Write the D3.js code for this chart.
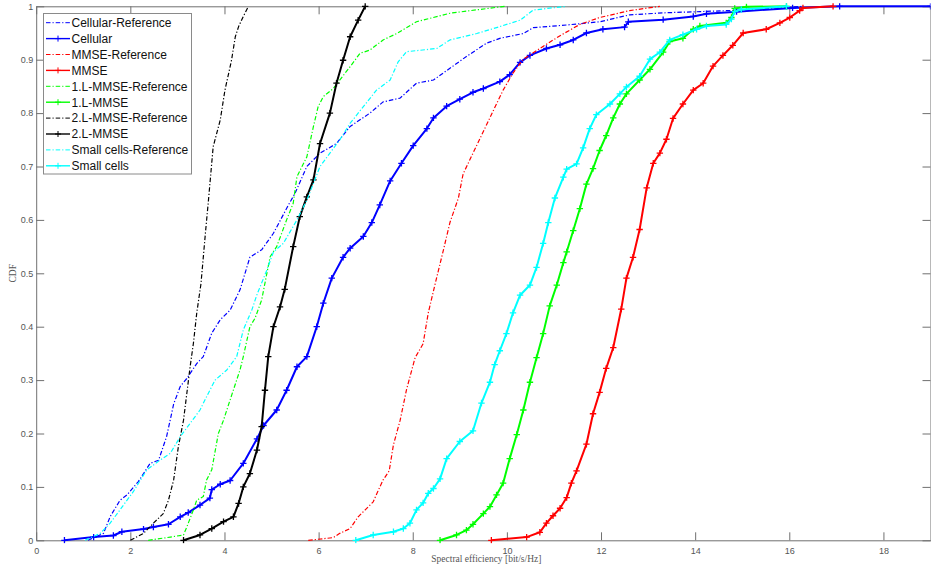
<!DOCTYPE html>
<html>
<head>
<meta charset="utf-8">
<script src="https://cdn.jsdelivr.net/npm/d3@7"></script>
<style>
  html, body { margin: 0; padding: 0; background: #fff; }
  svg { display: block; }
</style>
</head>
<body>
<svg id="chart" width="931" height="569"></svg>
<script>
// ---- data: [spectral efficiency, CDF] ----
const cellularRef = [[1.1,0],[1.43,0.013],[1.57,0.044],[1.78,0.075],[1.93,0.085],[2.17,0.11],[2.42,0.144],[2.6,0.15],[2.77,0.194],[2.92,0.255],[3.06,0.288],[3.2,0.303],[3.41,0.331],[3.55,0.344],[3.73,0.388],[3.91,0.413],[4.12,0.431],[4.33,0.469],[4.54,0.53],[4.79,0.544],[5.04,0.575],[5.36,0.628],[5.5,0.65],[5.75,0.70],[6.03,0.725],[6.38,0.743],[6.67,0.775],[7.09,0.80],[7.37,0.821],[7.73,0.828],[8.08,0.856],[8.44,0.862],[8.79,0.884],[9.14,0.906],[9.57,0.931],[9.85,0.94],[10.35,0.949],[10.56,0.96],[11.27,0.965],[11.97,0.971],[12.61,0.984],[13.39,0.988],[14.1,0.99],[15.0,0.993],[16.3,1.0]];
const cellular = [[0.6,0],[1.22,0.006],[1.64,0.009],[1.82,0.016],[2.28,0.021],[2.49,0.025],[2.81,0.03],[3.06,0.044],[3.23,0.052],[3.48,0.066],[3.69,0.079],[3.73,0.095],[3.91,0.105],[4.12,0.112],[4.4,0.144],[4.69,0.19],[4.83,0.215],[5.11,0.244],[5.32,0.281],[5.54,0.325],[5.75,0.344],[5.96,0.40],[6.1,0.444],[6.28,0.491],[6.52,0.53],[6.67,0.547],[6.95,0.569],[7.13,0.595],[7.3,0.628],[7.52,0.673],[7.76,0.706],[8.01,0.739],[8.3,0.771],[8.44,0.791],[8.72,0.813],[9.0,0.826],[9.28,0.839],[9.5,0.846],[9.85,0.859],[10.06,0.872],[10.28,0.895],[10.49,0.908],[10.84,0.921],[11.13,0.928],[11.41,0.937],[11.69,0.95],[12.04,0.957],[12.5,0.961],[12.58,0.971],[13.32,0.975],[13.96,0.981],[14.24,0.986],[14.88,0.99],[16.07,0.997],[17.07,1.0],[19,1.0]];
const mmseRef = [[5.78,0],[6.31,0.005],[6.45,0.013],[6.67,0.022],[6.84,0.044],[6.99,0.057],[7.16,0.072],[7.27,0.094],[7.37,0.113],[7.5,0.13],[7.59,0.179],[7.73,0.224],[7.87,0.283],[8.05,0.342],[8.22,0.368],[8.33,0.426],[8.47,0.478],[8.65,0.543],[8.79,0.595],[8.97,0.641],[9.07,0.686],[9.28,0.725],[9.46,0.758],[9.67,0.797],[9.92,0.843],[10.13,0.875],[10.35,0.901],[10.7,0.921],[11.13,0.945],[11.55,0.966],[11.97,0.979],[12.47,0.989],[12.61,0.992],[13.25,1.0]];
const mmse = [[9.67,0],[10.42,0.006],[10.7,0.015],[10.84,0.032],[10.98,0.046],[11.13,0.06],[11.27,0.08],[11.37,0.107],[11.48,0.13],[11.69,0.18],[11.83,0.237],[11.97,0.277],[12.11,0.322],[12.26,0.361],[12.43,0.433],[12.54,0.491],[12.68,0.53],[12.82,0.582],[12.97,0.66],[13.11,0.706],[13.25,0.725],[13.39,0.751],[13.53,0.79],[13.74,0.817],[13.96,0.843],[14.17,0.856],[14.38,0.888],[14.59,0.908],[14.8,0.927],[15.02,0.95],[15.51,0.957],[15.8,0.969],[16.01,0.979],[16.22,0.992],[16.29,0.997],[16.93,1.0]];
const l1Ref = [[2.38,0],[2.85,0.006],[3.13,0.01],[3.2,0.025],[3.34,0.057],[3.41,0.075],[3.55,0.082],[3.62,0.113],[3.73,0.132],[3.87,0.2],[3.98,0.225],[4.12,0.263],[4.33,0.319],[4.4,0.344],[4.54,0.4],[4.65,0.416],[4.79,0.45],[4.97,0.531],[5.11,0.55],[5.32,0.60],[5.46,0.631],[5.54,0.681],[5.75,0.718],[5.89,0.775],[5.99,0.812],[6.1,0.831],[6.31,0.846],[6.67,0.887],[6.88,0.912],[7.09,0.918],[7.37,0.937],[7.66,0.949],[8.08,0.971],[8.79,0.987],[9.95,1.0]];
const l1 = [[8.58,0],[8.93,0.01],[9.14,0.019],[9.28,0.03],[9.5,0.05],[9.64,0.063],[9.78,0.085],[9.92,0.107],[10.06,0.153],[10.21,0.198],[10.35,0.244],[10.49,0.296],[10.63,0.342],[10.77,0.387],[10.91,0.439],[11.06,0.478],[11.2,0.52],[11.27,0.54],[11.41,0.58],[11.55,0.621],[11.69,0.667],[11.83,0.696],[11.97,0.73],[12.11,0.758],[12.26,0.791],[12.4,0.817],[12.54,0.836],[12.82,0.862],[13.04,0.882],[13.32,0.914],[13.46,0.934],[13.74,0.94],[13.96,0.957],[14.1,0.963],[14.66,0.969],[14.77,0.979],[14.84,0.996],[15.09,0.999],[15.94,1.0]];
const l2Ref = [[2.0,0],[2.28,0.013],[2.49,0.032],[2.7,0.05],[2.81,0.075],[2.92,0.113],[3.02,0.175],[3.13,0.225],[3.2,0.275],[3.27,0.325],[3.34,0.369],[3.41,0.425],[3.5,0.48],[3.6,0.58],[3.66,0.637],[3.76,0.737],[3.91,0.787],[4.01,0.843],[4.15,0.899],[4.23,0.943],[4.3,0.962],[4.4,0.981],[4.51,1.0]];
const l2 = [[3.13,0],[3.48,0.01],[3.73,0.022],[3.98,0.035],[4.19,0.044],[4.3,0.069],[4.4,0.1],[4.54,0.125],[4.69,0.169],[4.79,0.213],[4.86,0.281],[4.93,0.344],[5.04,0.4],[5.18,0.437],[5.28,0.47],[5.46,0.55],[5.6,0.606],[5.75,0.643],[5.89,0.675],[6.03,0.743],[6.24,0.8],[6.38,0.856],[6.52,0.899],[6.67,0.943],[6.84,0.974],[6.99,1.0]];
const scRef = [[1.04,0],[1.36,0.013],[1.57,0.032],[1.78,0.057],[2.07,0.092],[2.35,0.132],[2.63,0.15],[2.85,0.163],[3.06,0.194],[3.27,0.219],[3.48,0.244],[3.62,0.269],[3.8,0.30],[4.05,0.319],[4.26,0.344],[4.4,0.394],[4.58,0.431],[4.69,0.46],[4.9,0.506],[5.04,0.54],[5.25,0.556],[5.54,0.6],[5.75,0.637],[6.03,0.70],[6.24,0.725],[6.45,0.75],[6.67,0.781],[6.95,0.812],[7.23,0.843],[7.52,0.862],[7.69,0.896],[7.87,0.915],[8.51,0.921],[8.79,0.937],[9.36,0.949],[9.85,0.962],[10.28,0.974],[10.56,0.993],[11.27,1.0]];
const sc = [[6.79,0],[7.16,0.01],[7.59,0.016],[7.8,0.022],[7.94,0.032],[8.08,0.057],[8.22,0.07],[8.33,0.088],[8.44,0.097],[8.58,0.115],[8.72,0.153],[9.0,0.185],[9.28,0.205],[9.46,0.257],[9.64,0.296],[9.74,0.329],[9.85,0.355],[9.99,0.387],[10.13,0.426],[10.28,0.459],[10.49,0.478],[10.63,0.511],[10.77,0.556],[10.88,0.595],[11.02,0.641],[11.2,0.68],[11.27,0.695],[11.48,0.705],[11.62,0.735],[11.76,0.771],[11.9,0.797],[12.19,0.817],[12.4,0.836],[12.54,0.849],[12.82,0.869],[13.04,0.901],[13.25,0.914],[13.46,0.937],[13.74,0.947],[14.03,0.957],[14.24,0.963],[14.66,0.966],[14.77,0.976],[14.84,0.99],[14.98,0.994],[15.94,1.0]];

const seriesNames = ["Cellular-Reference","Cellular","MMSE-Reference","MMSE","1.L-MMSE-Reference","1.L-MMSE","2.L-MMSE-Reference","2.L-MMSE","Small cells-Reference","Small cells"];
const seriesData = [cellularRef, cellular, mmseRef, mmse, l1Ref, l1, l2Ref, l2, scRef, sc];
const seriesColors = ["#0000ff","#0000ff","#ff0000","#ff0000","#00ff00","#00ff00","#000000","#000000","#00ffff","#00ffff"];
const seriesIsRef = [true,false,true,false,true,false,true,false,true,false];
const xTicks = [0,2,4,6,8,10,12,14,16,18];
const yTicks = [0,0.1,0.2,0.3,0.4,0.5,0.6,0.7,0.8,0.9,1];

// ---- layout ----
const L = 36.2, R = 930.5, T = 6.3, B = 540.3;
const svg = d3.select("#chart");
const x = d3.scaleLinear().domain([0, 19]).range([L, R]);
const y = d3.scaleLinear().domain([0, 1]).range([B, T]);
const axisColor = "#707070";
const labelColor = "#555";
const DASH = "4.5,2,1.2,2";

svg.append("defs").append("clipPath").attr("id", "clip")
  .append("rect").attr("x", L).attr("y", T - 3).attr("width", R - L).attr("height", B - T + 6);

// axes
function styleAxis(g) {
  g.selectAll(".domain").attr("stroke", axisColor).attr("stroke-width", 1);
  g.selectAll(".tick line").attr("stroke", axisColor).attr("stroke-width", 1);
  g.selectAll(".tick text").attr("fill", labelColor)
    .style("font-family", "'Liberation Sans', Arial, Helvetica, sans-serif").style("font-size", "9px");
}
svg.append("g").attr("transform", `translate(0,${B})`)
  .call(d3.axisBottom(x).tickValues(xTicks).tickFormat(d3.format("d")).tickSizeInner(-8).tickSizeOuter(0).tickPadding(7))
  .call(styleAxis);
svg.append("g").attr("transform", `translate(0,${T})`)
  .call(d3.axisTop(x).tickValues(xTicks).tickFormat("").tickSizeInner(-8).tickSizeOuter(0))
  .call(styleAxis);
svg.append("g").attr("transform", `translate(${L},0)`)
  .call(d3.axisLeft(y).tickValues(yTicks).tickFormat(d => d === 0 ? "0" : d === 1 ? "1" : d3.format(".1f")(d)).tickSizeInner(-8).tickSizeOuter(0).tickPadding(3))
  .call(styleAxis);
svg.append("g").attr("transform", `translate(${R},0)`)
  .call(d3.axisRight(y).tickValues(yTicks).tickFormat("").tickSizeInner(-8).tickSizeOuter(0))
  .call(styleAxis);

// axis titles
svg.append("text").attr("x", (L + R) / 2 + 3).attr("y", 562)
  .attr("text-anchor", "middle").attr("fill", labelColor)
  .style("font-family", "'Liberation Serif', 'DejaVu Serif', serif").style("font-size", "9.5px")
  .text("Spectral efficiency [bit/s/Hz]");
svg.append("text").attr("transform", `translate(16,${(T + B) / 2}) rotate(-90)`)
  .attr("text-anchor", "middle").attr("fill", labelColor)
  .style("font-family", "'Liberation Serif', 'DejaVu Serif', serif").style("font-size", "9.5px")
  .text("CDF");

// lines
const line = d3.line().x(d => x(d[0])).y(d => y(d[1]));
const plot = svg.append("g").attr("clip-path", "url(#clip)");
function plus(g, cx, cy, s, color, w) {
  g.append("path").attr("d", `M${cx - s},${cy}H${cx + s}M${cx},${cy - s}V${cy + s}`)
    .attr("stroke", color).attr("stroke-width", w).attr("fill", "none");
}
seriesData.forEach((data, i) => {
  const g = plot.append("g");
  g.append("path").datum(data).attr("d", line)
    .attr("fill", "none").attr("stroke", seriesColors[i])
    .attr("stroke-width", seriesIsRef[i] ? 1.2 : 2)
    .attr("stroke-dasharray", seriesIsRef[i] ? DASH : null)
    .attr("stroke-linejoin", "round");
  if (!seriesIsRef[i]) {
    data.forEach(d => plus(g, x(d[0]), y(d[1]), 3.2, seriesColors[i], 1.3));
  }
});

// legend
const lg = svg.append("g");
const lx = 43.5, ly = 13.5, lw = 148, lh = 160.5, rowH = 15.9;
lg.append("rect").attr("x", lx).attr("y", ly).attr("width", lw).attr("height", lh)
  .attr("fill", "#fff").attr("stroke", "#8a8a8a").attr("stroke-width", 1);
seriesNames.forEach((name, i) => {
  const cy = 22.7 + i * rowH;
  lg.append("line").attr("x1", 46).attr("x2", 70).attr("y1", cy).attr("y2", cy)
    .attr("stroke", seriesColors[i]).attr("stroke-width", seriesIsRef[i] ? 1 : 1.4)
    .attr("stroke-dasharray", seriesIsRef[i] ? DASH : null);
  if (!seriesIsRef[i]) plus(lg, 58, cy, 3, seriesColors[i], 1);
  lg.append("text").attr("x", 71.5).attr("y", cy + 4.3)
    .attr("fill", "#111")
    .style("font-family", "'Liberation Sans', Arial, Helvetica, sans-serif").style("font-size", "12px")
    .text(name);
});
</script>
</body>
</html>
